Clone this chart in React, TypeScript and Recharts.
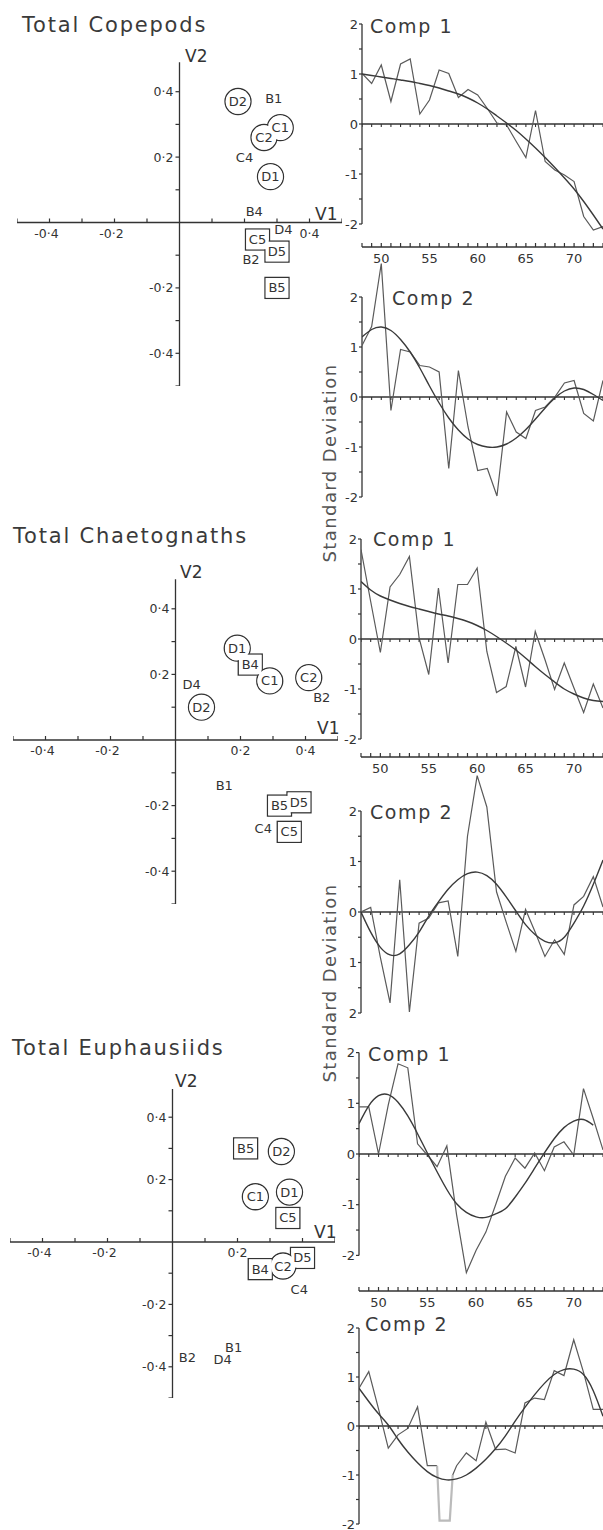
import React from 'react'
import {
  ScatterChart,
  ComposedChart,
  Scatter,
  Line,
  XAxis,
  YAxis,
  ReferenceLine,
} from 'recharts'

const FONT = '"DejaVu Sans", sans-serif'
const INK = '#333'

// ---- scatter (V1 / V2 loadings) ----
const axisSteps = [-0.5, -0.4, -0.3, -0.2, -0.1, 0.1, 0.2, 0.3, 0.4, 0.5]
const yLabelled = [0.4, 0.2, -0.2, -0.4]

const copLabels = ['D2', 'B1', 'C1', 'C2', 'C4', 'D1', 'B4', 'D4', 'C5', 'D5', 'B2', 'B5']
const copV1 = [0.18, 0.29, 0.31, 0.26, 0.2, 0.28, 0.23, 0.32, 0.24, 0.3, 0.22, 0.3]
const copV2 = [0.37, 0.38, 0.29, 0.26, 0.2, 0.14, 0.034, -0.021, -0.052, -0.089, -0.113, -0.2]
const copMarks = ['circle', 'none', 'circle', 'circle', 'none', 'circle', 'none', 'none', 'box', 'box', 'none', 'box']
const copXLabelled = [-0.4, -0.2, 0.4]

const chaLabels = ['D1', 'B4', 'C1', 'C2', 'B2', 'D4', 'D2', 'B1', 'B5', 'D5', 'C4', 'C5']
const chaV1 = [0.19, 0.23, 0.29, 0.41, 0.45, 0.05, 0.08, 0.15, 0.32, 0.38, 0.27, 0.35]
const chaV2 = [0.28, 0.23, 0.18, 0.19, 0.13, 0.17, 0.1, -0.14, -0.2, -0.19, -0.27, -0.28]
const chaMarks = ['circle', 'box', 'circle', 'circle', 'none', 'none', 'circle', 'none', 'box', 'box', 'none', 'box']
const chaXLabelled = [-0.4, -0.2, 0.2, 0.4]

const eupLabels = ['B5', 'D2', 'C1', 'D1', 'C5', 'D5', 'C2', 'B4', 'C4', 'B2', 'D4', 'B1']
const eupV1 = [0.225, 0.335, 0.255, 0.36, 0.355, 0.4, 0.34, 0.27, 0.39, 0.046, 0.154, 0.188]
const eupV2 = [0.3, 0.29, 0.145, 0.16, 0.077, -0.051, -0.077, -0.087, -0.151, -0.369, -0.378, -0.337]
const eupMarks = ['box', 'circle', 'circle', 'circle', 'box', 'box', 'circle', 'box', 'none', 'none', 'none', 'none']
const eupXLabelled = [-0.4, -0.2, 0.2]

// ---- time series (standard deviation by year) ----
const years = [48, 49, 50, 51, 52, 53, 54, 55, 56, 57, 58, 59, 60, 61, 62, 63, 64, 65, 66, 67, 68, 69, 70, 71, 72, 73]
const yearLabels = [50, 55, 60, 65, 70]
const sdTicks = [-2, -1.5, -1, -0.5, 0, 0.5, 1, 1.5, 2]
const sdLabels = ['-2', '', '-1', '', '0', '', '1', '', '2']
const sdLabelsUnsigned = ['2', '', '1', '', '0', '', '1', '', '2']

const copComp1Obs = [1.01, 0.81, 1.18, 0.45, 1.2, 1.3, 0.2, 0.48, 1.08, 1.01, 0.53, 0.69, 0.58, 0.31, 0.02, -0.02, -0.35, -0.67, 0.27, -0.75, -0.92, -1.02, -1.15, -1.85, -2.12, -2.05]
const copComp1Fit = [1.0, 0.97, 0.94, 0.91, 0.88, 0.85, 0.81, 0.77, 0.72, 0.66, 0.6, 0.52, 0.42, 0.3, 0.16, 0.02, -0.13, -0.3, -0.48, -0.67, -0.87, -1.08, -1.3, -1.55, -1.82, -2.1]
const copComp2Obs = [1.03, 1.41, 2.67, -0.27, 0.95, 0.9, 0.63, 0.6, 0.5, -1.43, 0.53, -0.6, -1.47, -1.43, -1.98, -0.3, -0.7, -0.83, -0.27, -0.2, 0.0, 0.28, 0.33, -0.33, -0.48, 0.33]
const copComp2Fit = [1.2, 1.35, 1.4, 1.33, 1.15, 0.9, 0.58, 0.22, -0.12, -0.42, -0.66, -0.84, -0.95, -1.0, -1.0, -0.94, -0.82, -0.65, -0.44, -0.22, -0.02, 0.12, 0.18, 0.15, 0.05, -0.07]

const chaComp1Obs = [1.79, 0.75, -0.27, 1.04, 1.29, 1.65, 0.02, -0.71, 1.02, -0.48, 1.09, 1.09, 1.42, -0.25, -1.07, -0.95, -0.15, -0.96, 0.15, -0.41, -1.01, -0.48, -0.98, -1.47, -0.9, -1.38]
const chaComp1Fit = [1.15, 0.98, 0.86, 0.78, 0.71, 0.65, 0.6, 0.55, 0.5, 0.46, 0.41, 0.35, 0.27, 0.17, 0.05, -0.08, -0.22, -0.38, -0.55, -0.71, -0.86, -1.0, -1.1, -1.18, -1.23, -1.25]
const chaComp2Obs = [0.0, 0.09, -0.9, -1.8, 0.64, -1.98, -0.22, -0.12, 0.18, 0.22, -0.88, 1.5, 2.7, 2.08, 0.4, -0.2, -0.78, 0.05, -0.4, -0.88, -0.55, -0.84, 0.14, 0.31, 0.7, 0.1]
const chaComp2Fit = [0.0, -0.4, -0.7, -0.85, -0.83, -0.65, -0.4, -0.08, 0.2, 0.45, 0.64, 0.76, 0.79, 0.72, 0.55, 0.3, 0.02, -0.25, -0.45, -0.58, -0.61, -0.5, -0.22, 0.12, 0.55, 1.03]

const eupComp1Obs = [0.93, 0.93, 0.0, 0.97, 1.78, 1.7, 0.2, -0.02, -0.25, 0.16, -1.2, -2.34, -1.9, -1.54, -1.0, -0.44, -0.08, -0.28, 0.02, -0.33, 0.14, 0.24, -0.02, 1.29, 0.7, 0.08]
const eupComp1Fit = [0.6, 0.95, 1.15, 1.17, 1.02, 0.75, 0.4, 0.02, -0.35, -0.7, -0.98, -1.15, -1.24, -1.25, -1.18, -1.08, -0.85, -0.58, -0.28, 0.02, 0.3, 0.52, 0.65, 0.68, 0.57, null]
const eupComp2YearsA = [48, 49, 50, 51, 52, 53, 54, 55, 56]
const eupComp2ObsA = [0.77, 1.11, 0.35, -0.45, -0.18, -0.05, 0.39, -0.81, -0.81]
const eupComp2GapYears = [56, 56.25, 57.3, 57.6]
const eupComp2GapObs = [-0.81, -1.93, -1.93, -1.0]
const eupComp2YearsB = [57.6, 58, 59, 60, 61, 62, 63, 64, 65, 66, 67, 68, 69, 70, 71, 72, 73]
const eupComp2ObsB = [-1.0, -0.81, -0.55, -0.71, 0.08, -0.48, -0.47, -0.55, 0.47, 0.57, 0.54, 1.13, 1.03, 1.76, 1.1, 0.34, 0.34]
const eupComp2Fit = [0.77, 0.5, 0.25, 0.02, -0.27, -0.53, -0.75, -0.93, -1.05, -1.1, -1.08, -1.0, -0.86, -0.68, -0.46, -0.2, 0.1, 0.38, 0.64, 0.87, 1.05, 1.15, 1.16, 1.05, 0.72, 0.2]

const toPoints = (xs: number[], ys: (number | null)[]) => xs.map((x, i) => ({ x, y: ys[i] }))

const fmtAxis = (v: number) => (v < 0 ? '-' : '') + '0·' + Math.round(Math.abs(v) * 10)

// ---------- scatter shapes ----------
const XTickMark = (p: any) => (
  <g>
    <line x1={p.cx} y1={p.cy} x2={p.cx} y2={p.cy - 4} stroke={INK} strokeWidth={1.2} />
    {p.payload.lab && (
      <text x={p.cx - (p.payload.x < 0 ? 3 : 0)} y={p.cy + 15} textAnchor="middle" fontSize={12.5} fill={INK} fontFamily={FONT}>
        {p.payload.lab}
      </text>
    )}
  </g>
)

const YTickMark = (p: any) => (
  <g>
    <line x1={p.cx} y1={p.cy} x2={p.cx - 4} y2={p.cy} stroke={INK} strokeWidth={1.2} />
    {p.payload.lab && (
      <text x={p.cx - 6} y={p.cy} dy={4.5} textAnchor="end" fontSize={12.5} fill={INK} fontFamily={FONT}>
        {p.payload.lab}
      </text>
    )}
  </g>
)

const BOX_W = 24
const BOX_H = 21
const RAD = 13

const MarkOutline = (p: any) => {
  const m = p.payload.mark
  if (m === 'circle') return <circle cx={p.cx} cy={p.cy} r={RAD} fill="#fff" stroke={INK} strokeWidth={1.3} />
  if (m === 'box')
    return <rect x={p.cx - BOX_W / 2} y={p.cy - BOX_H / 2} width={BOX_W} height={BOX_H} fill="#fff" stroke={INK} strokeWidth={1.3} />
  return <g />
}

const MarkFill = (p: any) => {
  const m = p.payload.mark
  if (m === 'circle') return <circle cx={p.cx} cy={p.cy} r={RAD - 0.8} fill="#fff" />
  if (m === 'box')
    return <rect x={p.cx - BOX_W / 2 + 0.8} y={p.cy - BOX_H / 2 + 0.8} width={BOX_W - 1.6} height={BOX_H - 1.6} fill="#fff" />
  return <g />
}

const MarkText = (p: any) => (
  <text x={p.cx} y={p.cy} dy={4.5} textAnchor="middle" fontSize={13} fill={INK} fontFamily={FONT}>
    {p.payload.lab}
  </text>
)

interface ScatterPanelProps {
  labels: string[]
  v1: number[]
  v2: number[]
  marks: string[]
  xLabelled: number[]
  ox: number
  oy: number
  kx: number
  ky: number
}

const ScatterPanel = ({ labels, v1, v2, marks, xLabelled, ox, oy, kx, ky }: ScatterPanelProps) => {
  const pad = 24
  const points = labels.map((lab, i) => ({ x: v1[i], y: v2[i], lab, mark: marks[i] }))
  const xTicks = axisSteps.map((v) => ({ x: v, y: 0, lab: xLabelled.includes(v) ? fmtAxis(v) : '' }))
  const yTicks = axisSteps
    .filter((v) => v < 0.45)
    .map((v) => ({ x: 0, y: v, lab: yLabelled.includes(v) ? fmtAxis(v) : '' }))
  return (
    <div style={{ position: 'absolute', left: ox - 0.5 * kx - pad, top: oy - 0.5 * ky - pad }}>
      <ScatterChart
        width={kx + 2 * pad}
        height={ky + 2 * pad}
        margin={{ top: pad, right: pad, bottom: pad, left: pad }}
      >
        <XAxis type="number" dataKey="x" domain={[-0.5, 0.5]} hide allowDataOverflow />
        <YAxis type="number" dataKey="y" domain={[-0.5, 0.5]} hide allowDataOverflow />
        <ReferenceLine segment={[{ x: -0.5, y: 0 }, { x: 0.5, y: 0 }]} stroke={INK} strokeWidth={1.3} />
        <ReferenceLine segment={[{ x: 0, y: -0.5 }, { x: 0, y: 0.49 }]} stroke={INK} strokeWidth={1.3} />
        <Scatter data={xTicks} shape={XTickMark} isAnimationActive={false} />
        <Scatter data={yTicks} shape={YTickMark} isAnimationActive={false} />
        <Scatter data={points} shape={MarkOutline} isAnimationActive={false} />
        <Scatter data={points} shape={MarkFill} isAnimationActive={false} />
        <Scatter data={points} shape={MarkText} isAnimationActive={false} />
      </ScatterChart>
    </div>
  )
}

// ---------- line panels ----------
const YearTick = (p: any) => {
  const v = p.payload.value
  return (
    <g>
      <line x1={p.x} y1={p.y} x2={p.x} y2={p.y - 4} stroke={INK} strokeWidth={1.2} />
      {yearLabels.includes(v) && (
        <text x={p.x} y={p.y + 16} textAnchor="middle" fontSize={13} fill={INK} fontFamily={FONT}>
          {v}
        </text>
      )}
    </g>
  )
}

const ZeroTick = (p: any) => (
  <line x1={p.cx} y1={p.cy} x2={p.cx} y2={p.cy + 3} stroke={INK} strokeWidth={1.1} />
)

interface Series {
  data: { x: number; y: number | null }[]
  color: string
  width: number
  smooth?: boolean
}

interface LinePanelProps {
  top: number
  bottom: number
  zero: number
  k: number
  plotLeft: number
  yearAxis?: boolean
  yLabels: string[]
  series: Series[]
}

const LinePanel = ({ top, bottom, zero, k, plotLeft, yearAxis, yLabels, series }: LinePanelProps) => {
  const axisW = 30
  const xAxisH = yearAxis ? 24 : 0
  const yMax = (zero - top) / k
  const yMin = (zero - bottom) / k
  const SdTick = (p: any) => {
    const lab = yLabels[sdTicks.indexOf(p.payload.value)]
    return (
      <text x={p.x} y={p.y} dy={4.5} textAnchor="end" fontSize={13} fill={INK} fontFamily={FONT}>
        {lab}
      </text>
    )
  }
  return (
    <div style={{ position: 'absolute', left: plotLeft - axisW, top }}>
      <ComposedChart
        width={axisW + (603 - plotLeft)}
        height={bottom - top + xAxisH}
        margin={{ top: 0, right: 0, bottom: 0, left: 0 }}
      >
        <XAxis
          type="number"
          dataKey="x"
          domain={[48, 73]}
          allowDataOverflow
          hide={!yearAxis}
          height={xAxisH}
          ticks={years}
          interval={0}
          tickSize={0}
          tickMargin={0}
          tickLine={false}
          axisLine={{ stroke: INK, strokeWidth: 1.3 }}
          tick={<YearTick />}
        />
        <YAxis
          type="number"
          dataKey="y"
          domain={[yMin, yMax]}
          allowDataOverflow
          width={axisW}
          ticks={sdTicks}
          interval={0}
          tickSize={3}
          tickMargin={1}
          axisLine={false}
          tickLine={{ stroke: INK, strokeWidth: 1.2 }}
          tick={<SdTick />}
        />
        <ReferenceLine segment={[{ x: 48, y: -2 }, { x: 48, y: 2 }]} stroke={INK} strokeWidth={1.3} />
        <ReferenceLine y={0} stroke={INK} strokeWidth={1.3} />
        <Scatter data={years.map((x) => ({ x, y: 0 }))} shape={ZeroTick} isAnimationActive={false} />
        {series.map((s, i) => (
          <Line
            key={i}
            data={s.data}
            dataKey="y"
            type={s.smooth ? 'natural' : 'linear'}
            stroke={s.color}
            strokeWidth={s.width}
            dot={false}
            activeDot={false}
            connectNulls={false}
            isAnimationActive={false}
          />
        ))}
      </ComposedChart>
    </div>
  )
}

const OBS = '#5a5a5a'
const FIT = '#3a3a3a'

const obsLine = (xs: number[], ys: (number | null)[]): Series => ({ data: toPoints(xs, ys), color: OBS, width: 1.2 })
const fitLine = (ys: (number | null)[]): Series => ({ data: toPoints(years, ys), color: FIT, width: 1.4, smooth: true })

const titleStyle = { fontSize: 21, letterSpacing: 1.8, fill: '#3a3a3a' }
const compStyle = { fontSize: 19, letterSpacing: 1.6, fill: '#3a3a3a' }
const vStyle = { fontSize: 17, fill: INK }
const sdStyle = { fontSize: 18, letterSpacing: 1.4, fill: '#555' }

export default function App() {
  return (
    <div
      style={{
        position: 'absolute',
        left: 0,
        top: 0,
        width: 603,
        height: 1530,
        background: '#fff',
        overflow: 'hidden',
      }}
    >
      <ScatterPanel labels={copLabels} v1={copV1} v2={copV2} marks={copMarks} xLabelled={copXLabelled} ox={179} oy={222} kx={325} ky={327} />
      <ScatterPanel labels={chaLabels} v1={chaV1} v2={chaV2} marks={chaMarks} xLabelled={chaXLabelled} ox={175} oy={740} kx={325} ky={328} />
      <ScatterPanel labels={eupLabels} v1={eupV1} v2={eupV2} marks={eupMarks} xLabelled={eupXLabelled} ox={172} oy={1242} kx={325} ky={312} />

      <LinePanel top={10} bottom={247} zero={124} k={50} plotLeft={362} yearAxis yLabels={sdLabels}
        series={[obsLine(years, copComp1Obs), fitLine(copComp1Fit)]} />
      <LinePanel top={258} bottom={512} zero={397} k={50} plotLeft={362} yLabels={sdLabels}
        series={[obsLine(years, copComp2Obs), fitLine(copComp2Fit)]} />
      <LinePanel top={524} bottom={757} zero={639} k={50} plotLeft={361} yearAxis yLabels={sdLabels}
        series={[obsLine(years, chaComp1Obs), fitLine(chaComp1Fit)]} />
      <LinePanel top={768} bottom={1028} zero={912} k={50.5} plotLeft={361} yLabels={sdLabelsUnsigned}
        series={[obsLine(years, chaComp2Obs), fitLine(chaComp2Fit)]} />
      <LinePanel top={1040} bottom={1291} zero={1154} k={50.7} plotLeft={359} yearAxis yLabels={sdLabels}
        series={[obsLine(years, eupComp1Obs), fitLine(eupComp1Fit)]} />
      <LinePanel top={1316} bottom={1530} zero={1426} k={49} plotLeft={359} yLabels={sdLabels}
        series={[
          obsLine(eupComp2YearsA, eupComp2ObsA),
          { data: toPoints(eupComp2GapYears, eupComp2GapObs), color: '#bbb', width: 2.2 },
          obsLine(eupComp2YearsB, eupComp2ObsB),
          fitLine(eupComp2Fit),
        ]} />

      <svg width={603} height={1530} style={{ position: 'absolute', left: 0, top: 0 }} fontFamily={FONT}>
        <text x={22} y={32} {...titleStyle}>Total Copepods</text>
        <text x={13} y={543} {...titleStyle}>Total Chaetognaths</text>
        <text x={12} y={1055} {...titleStyle}>Total Euphausiids</text>

        <text x={185} y={62} {...vStyle}>V2</text>
        <text x={315} y={220} {...vStyle}>V1</text>
        <text x={180} y={578} {...vStyle}>V2</text>
        <text x={317} y={734} {...vStyle}>V1</text>
        <text x={175} y={1087} {...vStyle}>V2</text>
        <text x={314} y={1238} {...vStyle}>V1</text>

        <text x={370} y={33} {...compStyle}>Comp 1</text>
        <text x={392} y={305} {...compStyle}>Comp 2</text>
        <text x={373} y={546} {...compStyle}>Comp 1</text>
        <text x={370} y={819} {...compStyle}>Comp 2</text>
        <text x={368} y={1061} {...compStyle}>Comp 1</text>
        <text x={365} y={1331} {...compStyle}>Comp 2</text>

        <text x={336} y={463} transform="rotate(-90 336 463)" textAnchor="middle" {...sdStyle}>Standard Deviation</text>
        <text x={336} y={983} transform="rotate(-90 336 983)" textAnchor="middle" {...sdStyle}>Standard Deviation</text>
      </svg>
    </div>
  )
}
